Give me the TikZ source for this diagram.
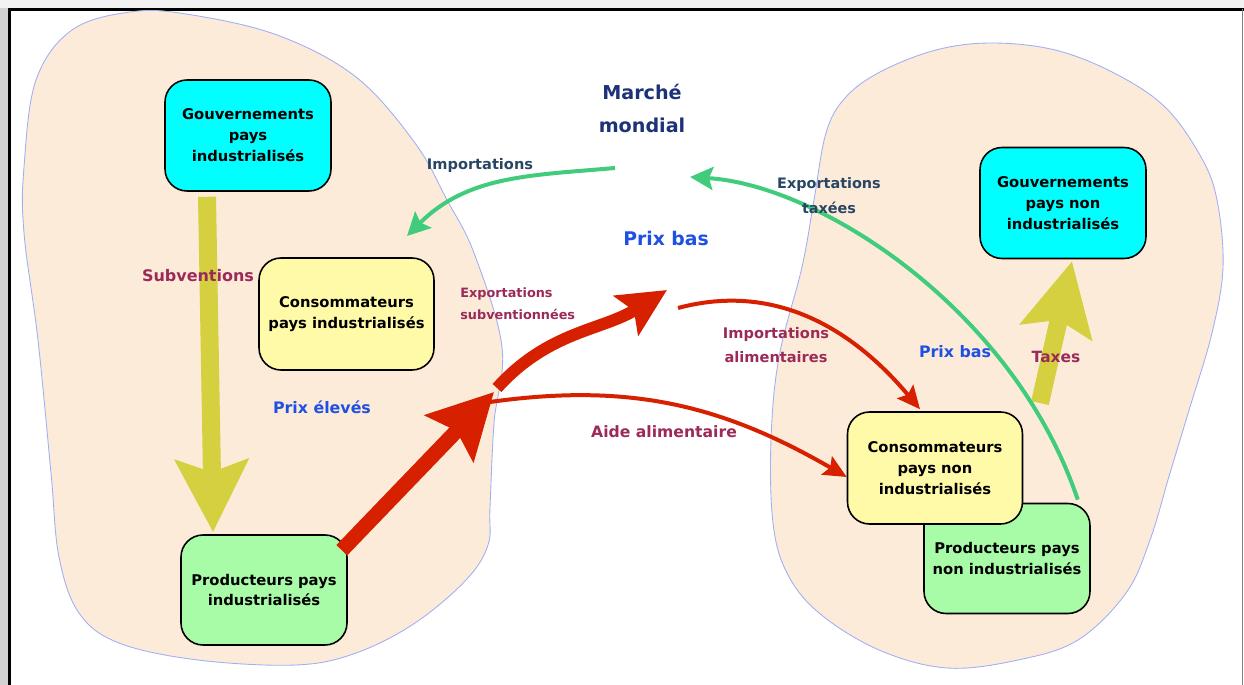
\documentclass[tikz,border=0pt]{standalone}
\usepackage{fontspec}
\setmainfont{DejaVu Sans}
\usetikzlibrary{arrows.meta,calc}

\definecolor{peach}{RGB}{253,235,218}
\definecolor{blobline}{RGB}{160,176,245}
\definecolor{govcyan}{RGB}{0,255,255}
\definecolor{consyellow}{RGB}{255,250,168}
\definecolor{prodgreen}{RGB}{168,252,168}
\definecolor{subvolive}{RGB}{212,208,64}
\definecolor{flowred}{RGB}{214,32,0}
\definecolor{flowgreen}{RGB}{64,204,124}
\definecolor{lblmaroon}{RGB}{155,42,88}
\definecolor{lblblue}{RGB}{30,80,225}
\definecolor{lblnavy}{RGB}{30,50,120}
\definecolor{lblslate}{RGB}{40,70,100}

\tikzset{
    actor/.style={draw=black, line width=0.9pt, rounded corners=0.44cm, align=center, inner sep=0pt,
        font=\bfseries\fontsize{8.4}{11.9}\selectfont},
    govbox/.style={actor, fill=govcyan, minimum width=3.32cm, minimum height=2.22cm},
    consbox/.style={actor, fill=consyellow, minimum width=3.5cm, minimum height=2.24cm},
    prodbox/.style={actor, fill=prodgreen, minimum width=3.32cm, minimum height=2.2cm},
    fatolive/.style={draw=subvolive, line width=0.36cm, -{Stealth[length=1.44cm, width=1.44cm, inset=0.24cm]}},
    bigred/.style={draw=flowred, line width=0.3cm, -{Stealth[length=1.28cm, width=1.32cm, inset=0.2cm]}},
    midred/.style={draw=flowred, line width=0.24cm, -{Stealth[length=0.96cm, width=0.92cm, inset=0.18cm]}},
    thinred/.style={draw=flowred, line width=0.08cm, -{Stealth[length=0.46cm, width=0.42cm, inset=0.08cm]}},
    thingreen/.style={draw=flowgreen, line width=0.08cm, -{Stealth[length=0.46cm, width=0.46cm, inset=0.08cm]}},
    lbl/.style={inner sep=0pt, align=center, font=\bfseries\fontsize{8.3}{13.8}\selectfont},
}

\begin{document}
\begin{tikzpicture}[x=0.02cm, y=-0.02cm]
    \useasboundingbox (0,0) rectangle (1244,685);
    % page frame and shadow
    \fill[gray!10] (0,0) rectangle (1244,8);
    \fill[gray!35] (0,8) rectangle (8,685);
    \draw[line width=1.7pt] (9.5,685) -- (9.5,9.5) -- (1244,9.5);
    \draw[gray, line width=0.6pt] (1242.5,9.5) -- (1242.5,685);

    % the two groups of countries
    \filldraw[fill=peach, draw=blobline, line width=0.5pt] plot[smooth cycle, tension=0.6] coordinates {
        (130,12) (186,14) (277,35) (356,77) (415,143) (447,200) (474,253) (502,347) (494,423)
        (490,507) (488,545) (466,580) (415,623) (356,653) (296,665) (198,660) (119,643)
        (79,613) (59,557) (51,473) (38,340) (24,233) (24,167) (36,80) (72,30)};
    \filldraw[fill=peach, draw=blobline, line width=0.5pt] plot[smooth cycle, tension=0.6] coordinates {
        (992,43) (1055,50) (1114,73) (1165,107) (1201,157) (1217,200) (1223,267) (1212,333)
        (1190,407) (1170,473) (1150,540) (1126,593) (1078,640) (1018,660) (947,668) (879,650)
        (819,613) (787,573) (773,523) (771,440) (779,357) (802,267) (814,200) (826,133)
        (845,98) (880,72) (936,50)};

    % actors
    \node[govbox] (gouvind) at (248,135.5) {Gouvernements\\pays\\industrialisés};
    \node[consbox] (consind) at (346.5,314) {Consommateurs\\pays industrialisés};
    \node[prodbox] (prodind) at (264,590) {Producteurs pays\\industrialisés};
    \node[govbox] (gouvnonind) at (1063,203) {Gouvernements\\pays non\\industrialisés};
    \node[prodbox] (prodnonind) at (1007,558.5) {Producteurs pays\\non industrialisés};
    \node[consbox] (consnonind) at (935,468) {Consommateurs\\pays non\\industrialisés};

    % free ends of the flows
    \coordinate (hub) at (494,392);
    \coordinate (hubout) at (497,388);
    \coordinate (aidstart) at (490,402);
    \coordinate (exptip) at (667,290);
    \coordinate (impstart) at (678,308);
    \coordinate (mktin) at (615,168);
    \coordinate (mkttip) at (690,177);
    \coordinate (impind) at (407,236);
    \coordinate (taxtail) at (1040,403);

    % flows
    \draw[fatolive] ($(gouvind.south)+(-41,5)$) -- ($(prodind.north)+(-51,-2)$);
    \draw[fatolive] (taxtail) -- ($(gouvnonind.south)+(9,2)$);
    \draw[bigred] ($(prodind.north east)+(-6,16)$) -- (hub);
    \draw[midred] (hubout) to[out=48, in=212] (exptip);
    \draw[thinred] (aidstart) to[out=8, in=150] ($(consnonind.west)+(0,9)$);
    \draw[thinred] (impstart) to[out=15, in=130] ($(consnonind.north)+(-15,-2)$);
    \draw[thingreen] (mktin) to[out=185, in=45] (impind);
    \draw[thingreen] ($(prodnonind.north east)+(-13,-3)$) .. controls +(-64,-190) and +(130,8) .. (mkttip);

    % labels
    \node[lbl, text=lblnavy, font=\bfseries\fontsize{10.9}{18.7}\selectfont] (marche) at (642,108.5) {Marché\\mondial};
    \node[lbl, text=lblblue, font=\bfseries\fontsize{10.7}{13}\selectfont] (prixbas) at (666,238) {Prix bas};
    \node[lbl, text=lblslate] (importlbl) at (480,165) {Importations};
    \node[lbl, text=lblslate, font=\bfseries\fontsize{8.2}{14.2}\selectfont] (exptaxlbl) at (829,196) {Exportations\\taxées};
    \node[lbl, text=lblmaroon, anchor=west, align=left, font=\bfseries\fontsize{7.3}{12.5}\selectfont] (expsublbl) at (460,304) {Exportations\\subventionnées};
    \node[lbl, text=lblmaroon] (impalimlbl) at (776,345) {Importations\\alimentaires};
    \node[lbl, text=lblmaroon, font=\bfseries\fontsize{8.9}{13}\selectfont] (aidelbl) at (664,432) {Aide alimentaire};
    \node[lbl, text=lblblue, font=\bfseries\fontsize{9}{13}\selectfont] (prixbasnonind) at (955,352) {Prix bas};
    \node[lbl, text=lblmaroon, font=\bfseries\fontsize{8.8}{13}\selectfont] (taxeslbl) at (1056,357) {Taxes};
    \node[lbl, text=lblmaroon, font=\bfseries\fontsize{9.1}{13}\selectfont] (subvlbl) at (198,276) {Subventions};
    \node[lbl, text=lblblue, font=\bfseries\fontsize{9}{13}\selectfont] (prixeleves) at (322,407) {Prix élevés};
\end{tikzpicture}
\end{document}
